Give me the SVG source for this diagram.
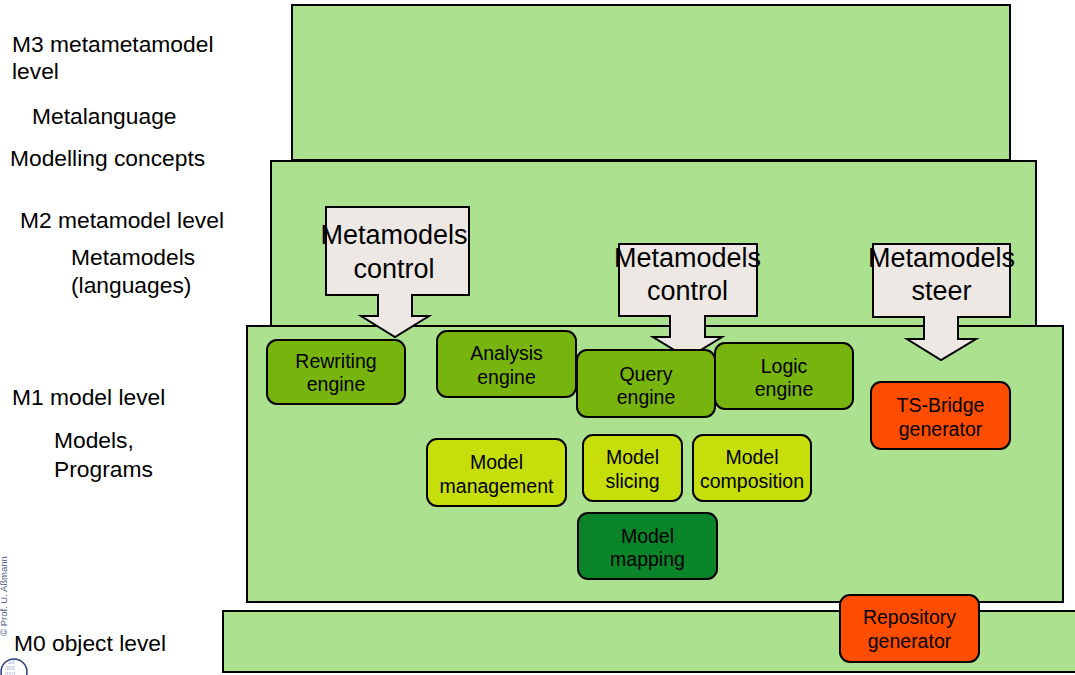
<svg xmlns="http://www.w3.org/2000/svg" width="1075" height="675" viewBox="0 0 1075 675">
<style>
.lvl{fill:#abe18f;stroke:#000;stroke-width:2}
.arr{fill:#eee8e4;stroke:#000;stroke-width:2;stroke-linejoin:miter}
.node rect{stroke:#000;stroke-width:2}
.eng{fill:#78b40e}
.mod{fill:#c6de0a}
.map{fill:#0a8428}
.gen{fill:#ff4d00}
text{font-family:"Liberation Sans",Arial,sans-serif;fill:#000}
.lbl{font-size:22.8px}
.nt{font-size:19.5px;text-anchor:middle}
.at{font-size:27px;text-anchor:middle}
</style>
<rect width="1075" height="675" fill="#fff"/>
<g id="levels">
<rect id="m3-box" class="lvl" x="292" y="5" width="718" height="155"/>
<rect id="m2-box" class="lvl" x="271" y="161" width="765" height="166"/>
<rect id="m1-box" class="lvl" x="247" y="326" width="816" height="276"/>
<rect id="m0-box" class="lvl" x="223" y="611" width="860" height="61"/>
</g>
<g id="labels" class="lbl">
<text x="12" y="52">M3 metametamodel</text>
<text x="12" y="79">level</text>
<text x="32" y="124">Metalanguage</text>
<text x="10" y="166">Modelling concepts</text>
<text x="20" y="228">M2 metamodel level</text>
<text x="71" y="265">Metamodels</text>
<text x="71" y="293">(languages)</text>
<text x="12" y="405">M1 model level</text>
<text x="54" y="448">Models,</text>
<text x="54" y="477">Programs</text>
<text x="14" y="651">M0 object level</text>
</g>
<g id="connectors">
<g id="arrow-control-1">
<path class="arr" d="M326,207 H469 V295 H412 V316 H429 L395,337 L361,316 H378 V295 H326 Z"/>
<text class="at" x="394" y="244">Metamodels</text>
<text class="at" x="394" y="278">control</text>
</g>
<g id="arrow-control-2">
<path class="arr" d="M619,244 H757 V316 H705 V337 H722 L687.5,358 L653,337 H670 V316 H619 Z"/>
<text class="at" x="687.5" y="267">Metamodels</text>
<text class="at" x="687.5" y="300">control</text>
</g>
<g id="arrow-steer">
<path class="arr" d="M873,244 H1010 V317 H958 V339 H976 L941,360 L907,339 H924 V317 H873 Z"/>
<text class="at" x="941.5" y="267">Metamodels</text>
<text class="at" x="941.5" y="300">steer</text>
</g>
</g>
<g id="rewriting-engine" class="node"><rect class="eng" x="267" y="340" width="138" height="64" rx="10"/><text class="nt" x="336" y="368">Rewriting</text><text class="nt" x="336" y="391">engine</text></g>
<g id="analysis-engine" class="node"><rect class="eng" x="437" y="331" width="139" height="66" rx="10"/><text class="nt" x="506.5" y="360">Analysis</text><text class="nt" x="506.5" y="384">engine</text></g>
<g id="logic-engine" class="node"><rect class="eng" x="715" y="343" width="138" height="66" rx="10"/><text class="nt" x="784" y="373">Logic</text><text class="nt" x="784" y="396">engine</text></g>
<g id="query-engine" class="node"><rect class="eng" x="577" y="350" width="138" height="67" rx="10"/><text class="nt" x="646" y="381">Query</text><text class="nt" x="646" y="404">engine</text></g>
<g id="ts-bridge-generator" class="node"><rect class="gen" x="871" y="382" width="139" height="67" rx="10"/><text class="nt" x="940.5" y="412">TS-Bridge</text><text class="nt" x="940.5" y="436">generator</text></g>
<g id="model-management" class="node"><rect class="mod" x="427" y="439" width="139" height="67" rx="10"/><text class="nt" x="496.5" y="469">Model</text><text class="nt" x="496.5" y="493">management</text></g>
<g id="model-slicing" class="node"><rect class="mod" x="583" y="435" width="99" height="66" rx="10"/><text class="nt" x="632.5" y="464">Model</text><text class="nt" x="632.5" y="488">slicing</text></g>
<g id="model-composition" class="node"><rect class="mod" x="693" y="435" width="118" height="66" rx="10"/><text class="nt" x="752" y="464">Model</text><text class="nt" x="752" y="488">composition</text></g>
<g id="model-mapping" class="node"><rect class="map" x="578" y="513" width="139" height="66" rx="10"/><text class="nt" x="647.5" y="543">Model</text><text class="nt" x="647.5" y="566">mapping</text></g>
<g id="repository-generator" class="node"><rect class="gen" x="840" y="595" width="139" height="67" rx="10"/><text class="nt" x="909.5" y="624">Repository</text><text class="nt" x="909.5" y="648">generator</text></g>
<g id="logo">
<text x="0" y="0" transform="translate(7,636) rotate(-90)" font-size="9.5" style="fill:#4a5a8a">© Prof. U. Aßmann</text>
<circle cx="14" cy="672" r="13" fill="none" stroke="#2a3f7a" stroke-width="1.5"/>
<text x="8" y="664" font-size="6" style="fill:#9aa6d8">10</text>
<text x="5" y="670" font-size="6" style="fill:#9aa6d8">001</text>
<text x="5" y="676" font-size="6" style="fill:#9aa6d8">010</text>
</g>
</svg>
